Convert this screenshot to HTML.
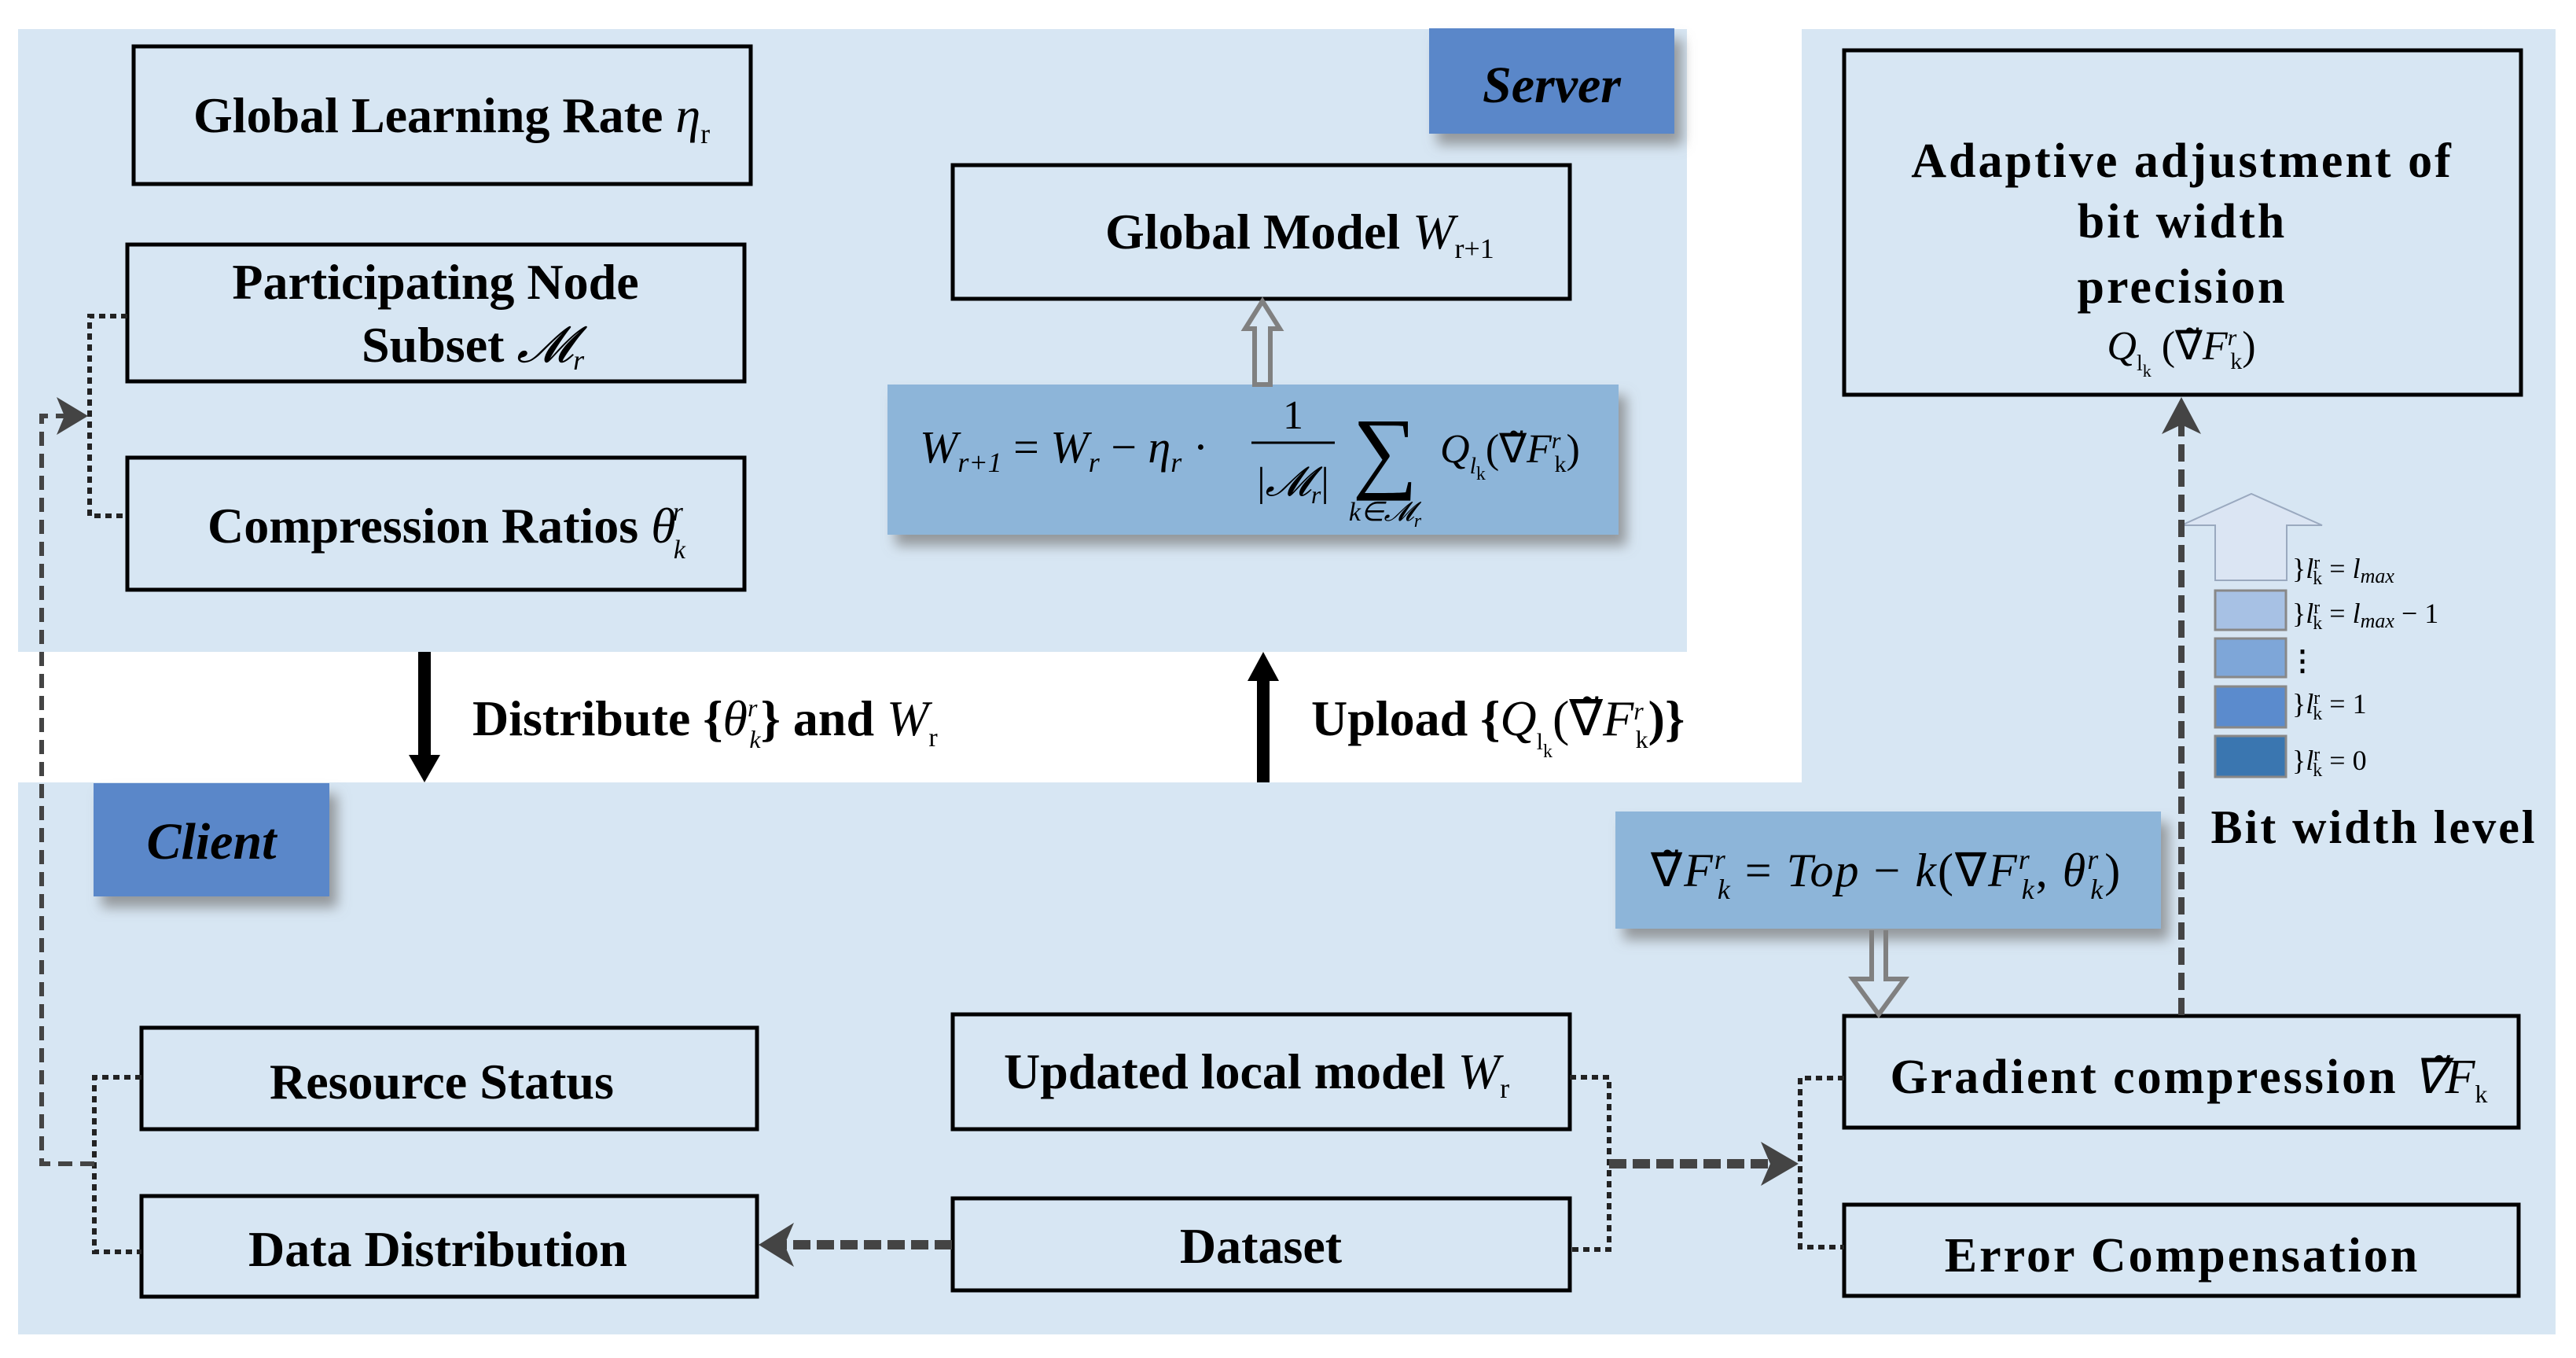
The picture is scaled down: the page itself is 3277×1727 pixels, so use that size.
<!DOCTYPE html>
<html><head><meta charset="utf-8"><style>
html,body{margin:0;padding:0;background:#fff;}
svg{display:block;}
text{font-family:"Liberation Serif",serif;}
</style></head><body>
<svg width="3277" height="1727" viewBox="0 0 3277 1727" xmlns="http://www.w3.org/2000/svg">
<defs>
<filter id="sh" x="-20%" y="-20%" width="150%" height="160%"><feDropShadow dx="10" dy="14" stdDeviation="8" flood-color="#777" flood-opacity="0.7"/></filter>
</defs>
<rect width="3277" height="1727" fill="#fff"/>
<rect x="23" y="37" width="2123" height="792" fill="#d7e6f3"/>
<rect x="2292" y="37" width="959" height="1660" fill="#d7e6f3"/>
<rect x="23" y="995" width="2270" height="702" fill="#d7e6f3"/>

<rect x="1818" y="36" width="312" height="134" fill="#5a87c9" filter="url(#sh)"/>
<text x="1974" y="130" font-size="66" font-weight="bold" font-style="italic" text-anchor="middle">Server</text>

<g fill="none" stroke="#000" stroke-width="5">
<rect x="170" y="59" width="785" height="175"/>
<rect x="162" y="311" width="785" height="174"/>
<rect x="162" y="582" width="785" height="168"/>
<rect x="1212" y="210" width="785" height="170"/>
<rect x="180" y="1307" width="783" height="129"/>
<rect x="180" y="1521" width="783" height="128"/>
<rect x="1212" y="1290" width="785" height="146"/>
<rect x="1212" y="1524" width="785" height="117"/>
<rect x="2346" y="64" width="861" height="438"/>
<rect x="2346" y="1292" width="858" height="142"/>
<rect x="2346" y="1532" width="858" height="116"/>
</g>
<g font-weight="bold" font-size="64">
<text x="246" y="168">Global Learning Rate <tspan font-style="italic" font-weight="normal">η</tspan><tspan font-size="36" font-weight="normal" dy="14">r</tspan></text>
<text x="554" y="380" text-anchor="middle">Participating Node</text>
<text x="460" y="460">Subset <tspan font-style="italic" font-weight="normal">𝓜</tspan><tspan font-size="36" font-style="italic" font-weight="normal" dy="10">r</tspan></text>
<text x="264" y="690">Compression Ratios <tspan font-style="italic" font-weight="normal">θ</tspan><tspan font-size="34" font-style="italic" font-weight="normal" dx="-4" dy="-28">r</tspan><tspan font-size="34" font-style="italic" font-weight="normal" dx="-12" dy="48">k</tspan></text>
<text x="1406" y="316">Global Model <tspan font-style="italic" font-weight="normal">W</tspan><tspan font-size="36" font-weight="normal" dy="12">r+1</tspan></text>
<text x="343" y="1397">Resource Status</text>
<text x="316" y="1610">Data Distribution</text>
<text x="1277" y="1384">Updated local model <tspan font-style="italic" font-weight="normal">W</tspan><tspan font-size="36" font-weight="normal" dy="12">r</tspan></text>
<text x="1604" y="1606" text-anchor="middle">Dataset</text>
<text x="601" y="935">Distribute {<tspan font-style="italic" font-weight="normal">θ</tspan><tspan font-size="32" font-style="italic" font-weight="normal" dy="-24">r</tspan><tspan font-size="32" font-style="italic" font-weight="normal" dx="-10" dy="40">k</tspan><tspan dy="-16">} and </tspan><tspan font-style="italic" font-weight="normal">W</tspan><tspan font-size="34" font-weight="normal" dy="14">r</tspan></text>
<text x="1668" y="935">Upload {<tspan font-style="italic" font-weight="normal">Q</tspan><tspan font-size="30" font-weight="normal" dy="18">l</tspan><tspan font-size="24" font-weight="normal" dy="10">k</tspan><tspan font-weight="normal" dy="-28">(∇̃</tspan><tspan font-style="italic" font-weight="normal">F</tspan><tspan font-size="32" font-style="italic" font-weight="normal" dy="-20">r</tspan><tspan font-size="32" font-weight="normal" dx="-10" dy="36">k</tspan><tspan dy="-16">)}</tspan></text>
</g>
<g font-weight="bold" font-size="62" letter-spacing="3" text-anchor="middle">
<text x="2776" y="225">Adaptive adjustment of</text>
<text x="2776" y="302">bit width</text>
<text x="2776" y="385">precision</text>
<text x="2786" y="1390">Gradient compression <tspan font-weight="normal" font-style="italic" letter-spacing="0">∇̃F</tspan><tspan font-size="32" font-weight="normal" dy="12">k</tspan></text>
<text x="2776" y="1617">Error Compensation</text>
<text x="3020" y="1072" font-size="60">Bit width level</text>
</g>
<text x="2775" y="457" font-size="52" text-anchor="middle"><tspan font-style="italic">Q</tspan><tspan font-size="28" dy="14">l</tspan><tspan font-size="22" dy="8">k</tspan><tspan dy="-22"> (∇̃</tspan><tspan font-style="italic">F</tspan><tspan font-size="30" font-style="italic" dy="-18">r</tspan><tspan font-size="30" dx="-8" dy="30">k</tspan><tspan dy="-12">)</tspan></text>

<rect x="1129" y="489" width="930" height="191" fill="#8db5d9" filter="url(#sh)"/>
<text x="1170" y="588" font-size="58"><tspan font-style="italic">W</tspan><tspan font-size="36" font-style="italic" dy="12">r+1</tspan><tspan dy="-12"> = </tspan><tspan font-style="italic">W</tspan><tspan font-size="36" font-style="italic" dy="12">r</tspan><tspan dy="-12"> − </tspan><tspan font-style="italic">η</tspan><tspan font-size="36" font-style="italic" dy="12">r</tspan><tspan dy="-12"> ·</tspan></text>
<text x="1645" y="545" font-size="52" text-anchor="middle">1</text>
<line x1="1592" y1="563" x2="1698" y2="563" stroke="#000" stroke-width="3"/>
<text x="1645" y="630" font-size="52" text-anchor="middle">|<tspan font-style="italic">𝓜</tspan><tspan font-size="32" font-style="italic" dy="10">r</tspan><tspan dy="-10">|</tspan></text>
<text x="1762" y="612" font-size="116" text-anchor="middle">∑</text>
<text x="1762" y="662" font-size="34" font-style="italic" text-anchor="middle">k∈𝓜<tspan font-size="24" dy="8">r</tspan></text>
<text x="1832" y="588" font-size="52"><tspan font-style="italic">Q</tspan><tspan font-size="30" font-style="italic" dy="14">l</tspan><tspan font-size="24" dy="8">k</tspan><tspan dy="-22">(∇̃</tspan><tspan font-style="italic">F</tspan><tspan font-size="30" font-style="italic" dy="-18">r</tspan><tspan font-size="30" dx="-8" dy="30">k</tspan><tspan dy="-12">)</tspan></text>

<rect x="2055" y="1032" width="694" height="149" fill="#8db5d9" filter="url(#sh)"/>
<text x="2100" y="1127" font-size="60" letter-spacing="2"><tspan>∇̃</tspan><tspan font-style="italic">F</tspan><tspan font-size="36" font-style="italic" dy="-22">r</tspan><tspan font-size="36" font-style="italic" dx="-12" dy="38">k</tspan><tspan dy="-16"> = </tspan><tspan font-style="italic">Top</tspan><tspan> − </tspan><tspan font-style="italic">k</tspan>(∇<tspan font-style="italic">F</tspan><tspan font-size="36" font-style="italic" dy="-22">r</tspan><tspan font-size="36" font-style="italic" dx="-12" dy="38">k</tspan><tspan dy="-16">, </tspan><tspan font-style="italic">θ</tspan><tspan font-size="36" font-style="italic" dy="-22">r</tspan><tspan font-size="36" font-style="italic" dx="-12" dy="38">k</tspan><tspan dy="-16">)</tspan></text>

<path d="M1596,489 L1596,418 L1584,418 L1606,383 L1628,418 L1616,418 L1616,489 Z" fill="none" stroke="#808080" stroke-width="6"/>
<path d="M2381,1183 L2381,1245 L2357,1245 L2390,1290 L2423,1245 L2399,1245 L2399,1183" fill="none" stroke="#808080" stroke-width="6"/>

<rect x="532" y="829" width="16" height="136" fill="#000"/>
<path d="M520,960 L560,960 L540,995 Z" fill="#000"/>
<rect x="1599" y="862" width="16" height="133" fill="#000"/>
<path d="M1587,866 L1627,866 L1607,829 Z" fill="#000"/>

<path d="M2818,738 L2818,668 L2775,668 L2864,628 L2954,668 L2909,668 L2909,738 Z" fill="#dbe5f3" stroke="#9aa9bf" stroke-width="2"/>
<rect x="2818" y="751" width="90" height="50" fill="#a7c1e4" stroke="#888" stroke-width="3"/>
<rect x="2818" y="812" width="90" height="49" fill="#7ea6d8" stroke="#888" stroke-width="3"/>
<rect x="2818" y="873" width="90" height="52" fill="#5b8bcd" stroke="#888" stroke-width="3"/>
<rect x="2818" y="936" width="90" height="52" fill="#3a76b0" stroke="#888" stroke-width="3"/>
<g font-size="36">
<text x="2916" y="735">}<tspan font-style="italic">l</tspan><tspan font-size="24" dy="-12">r</tspan><tspan font-size="24" dx="-9" dy="20">k</tspan><tspan dy="-8"> = </tspan><tspan font-style="italic">l</tspan><tspan font-size="26" font-style="italic" dy="6">max</tspan></text>
<text x="2916" y="792">}<tspan font-style="italic">l</tspan><tspan font-size="24" dy="-12">r</tspan><tspan font-size="24" dx="-9" dy="20">k</tspan><tspan dy="-8"> = </tspan><tspan font-style="italic">l</tspan><tspan font-size="26" font-style="italic" dy="6">max</tspan><tspan dy="-6"> − 1</tspan></text>
<text x="2916" y="907">}<tspan font-style="italic">l</tspan><tspan font-size="24" dy="-12">r</tspan><tspan font-size="24" dx="-9" dy="20">k</tspan><tspan dy="-8"> = 1</tspan></text>
<text x="2916" y="979">}<tspan font-style="italic">l</tspan><tspan font-size="24" dy="-12">r</tspan><tspan font-size="24" dx="-9" dy="20">k</tspan><tspan dy="-8"> = 0</tspan></text>
<text x="2911" y="852" font-weight="bold">⋮</text>
</g>

<line x1="2775" y1="1291" x2="2775" y2="530" stroke="#444" stroke-width="8" stroke-dasharray="22,10"/>
<path d="M2750,552 L2775,505 L2800,552 L2775,540 Z" fill="#444"/>

<g fill="none" stroke="#222" stroke-width="6" stroke-dasharray="8,6">
<polyline points="162,402 114,402 114,656 162,656"/>
<polyline points="180,1370 120,1370 120,1592 180,1592"/>
<polyline points="1997,1370 2047,1370 2047,1589 1997,1589"/>
<polyline points="2346,1371 2290,1371 2290,1586 2346,1586"/>
</g>
<polyline points="120,1480 53,1480 53,529 92,529" fill="none" stroke="#444" stroke-width="6" stroke-dasharray="18,10"/>
<path d="M72,505 L112,529 L72,553 L82,529 Z" fill="#444"/>
<line x1="1211" y1="1583" x2="995" y2="1583" stroke="#444" stroke-width="12" stroke-dasharray="22,8"/>
<path d="M1010,1555 L965,1583 L1010,1611 L998,1583 Z" fill="#444"/>
<line x1="2047" y1="1480" x2="2255" y2="1480" stroke="#444" stroke-width="12" stroke-dasharray="22,8"/>
<path d="M2240,1452 L2288,1480 L2240,1508 L2252,1480 Z" fill="#444"/>

<rect x="119" y="996" width="300" height="144" fill="#5a87c9" filter="url(#sh)"/>
<text x="269" y="1092" font-size="66" font-weight="bold" font-style="italic" text-anchor="middle">Client</text>
</svg>
</body></html>
